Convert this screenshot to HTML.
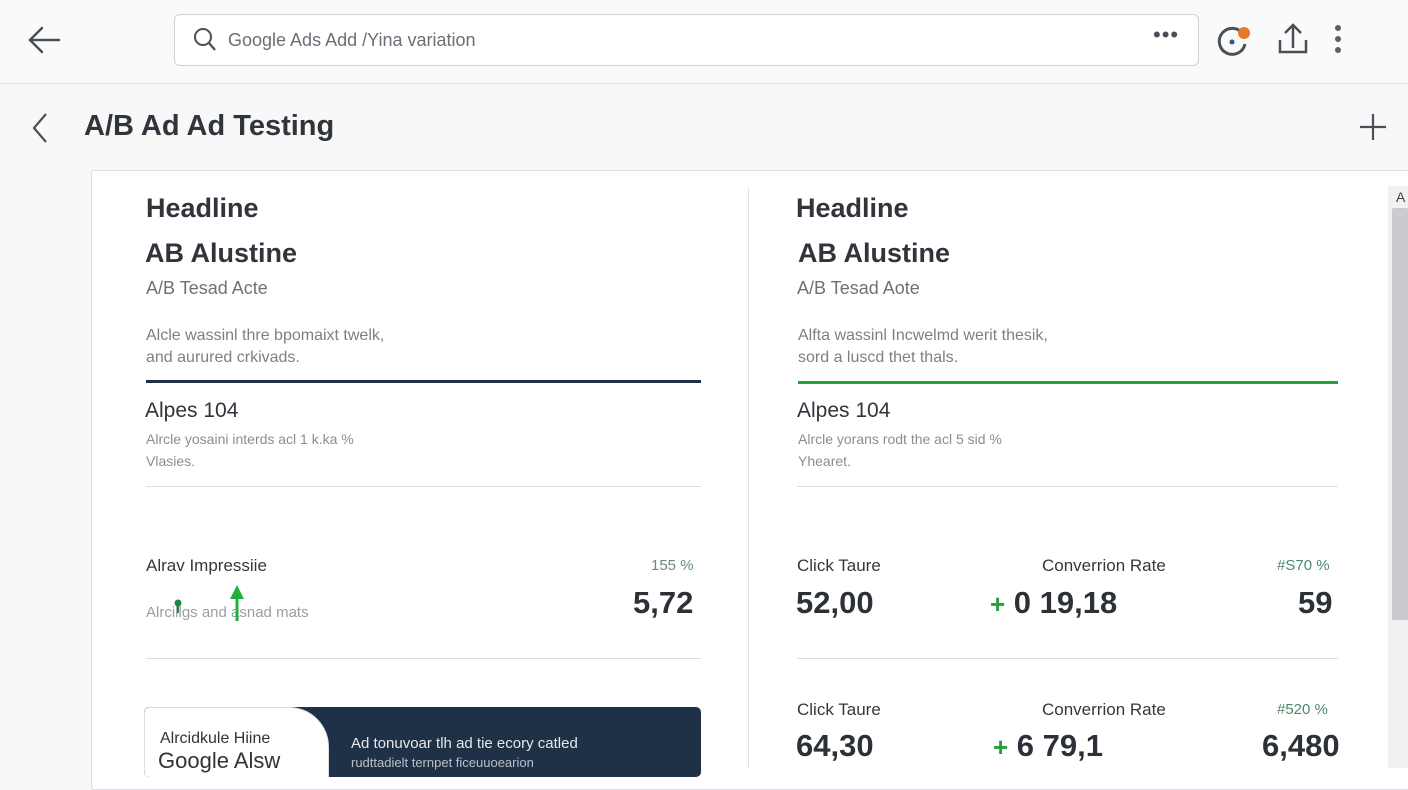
<!DOCTYPE html>
<html><head><meta charset="utf-8">
<style>
*{margin:0;padding:0;box-sizing:border-box}
body{width:1408px;height:768px;overflow:hidden;background:#f8f8f8;font-family:"Liberation Sans",Arial,sans-serif;color:#2a2f36;position:relative}
.a{position:absolute;white-space:nowrap}
.h{font-size:27px;font-weight:bold;color:#30353b}
.sub{font-size:18px;color:#6d7278}
.sm{font-size:16px;color:#7c8086;line-height:22px}
.lab{font-size:17px;color:#33383e}
.big{font-size:31px;font-weight:bold;color:#2c3138}
.pct{font-size:15px;color:#4a8a6a}
.hr{position:absolute;height:1px;background:#dcdde0}
</style></head><body>
<div class="a" style="left:0;top:0;width:1408px;height:84px;background:#fafafa;border-bottom:1px solid #dedfe2"></div>
<svg class="a" style="left:26px;top:24px" width="36" height="32"><path d="M33 16H4M16 4L4 16l12 12" stroke="#4a5058" stroke-width="2.5" fill="none" stroke-linecap="round"/></svg>
<div class="a" style="left:174px;top:14px;width:1025px;height:52px;border:1px solid #cfd1d4;border-radius:6px;background:#fff"></div>
<svg class="a" style="left:192px;top:27px" width="26" height="26"><circle cx="11" cy="10" r="8" stroke="#4a5058" stroke-width="2" fill="none"/><path d="M17 16l6 7" stroke="#4a5058" stroke-width="2.2"/></svg>
<div class="a" style="left:228px;top:30px;font-size:18px;color:#6a6f75">Google Ads Add /Yina variation</div>
<div class="a" style="left:1153px;top:22px;font-size:22px;color:#4a5058;letter-spacing:1px">•••</div>
<svg class="a" style="left:1214px;top:22px" width="40" height="36"><path d="M29 12A13 13 0 1 0 31 22" stroke="#4a5058" stroke-width="3" fill="none"/><circle cx="30" cy="11" r="6" fill="#e8782c"/><circle cx="18" cy="20" r="2.5" fill="#2c5a8c"/></svg>
<svg class="a" style="left:1276px;top:22px" width="34" height="34"><path d="M17 26V4M9 11l8-8 8 8M4 18v12h26V18" stroke="#4a5058" stroke-width="2.5" fill="none"/></svg>
<svg class="a" style="left:1332px;top:24px" width="12" height="32"><circle cx="6" cy="4" r="3" fill="#5a6068"/><circle cx="6" cy="15" r="3" fill="#5a6068"/><circle cx="6" cy="26" r="3" fill="#5a6068"/></svg>
<svg class="a" style="left:30px;top:112px" width="20" height="32"><path d="M16 2L4 16l12 14" stroke="#4a5058" stroke-width="2.2" fill="none"/></svg>
<div class="a" style="left:84px;top:110px;font-size:29px;font-weight:bold;color:#30353b">A/B Ad Ad Testing</div>
<svg class="a" style="left:1358px;top:112px" width="30" height="30"><path d="M15 2v26M2 15h26" stroke="#4a5058" stroke-width="2.2"/></svg>
<div class="a" style="left:91px;top:170px;width:1330px;height:620px;background:#fff;border:1px solid #dcdde0;border-radius:3px"></div>
<div class="a" style="left:748px;top:188px;width:1px;height:580px;background:#e0e1e3"></div>
<div class="a" style="left:1388px;top:186px;width:20px;height:582px;background:#f1f1f2"></div>
<div class="a" style="left:1396px;top:189px;font-size:14px;color:#444">A</div>
<div class="a" style="left:1392px;top:208px;width:16px;height:412px;background:#c9cbce;border-radius:2px"></div>

<!-- Left variant -->
<div class="a h" style="left:146px;top:193px">Headline</div>
<div class="a h" style="left:145px;top:238px">AB Alustine</div>
<div class="a sub" style="left:146px;top:278px">A/B Tesad Acte</div>
<div class="a sm" style="left:146px;top:325px">Alcle wassinl thre bpomaixt twelk,<br>and aurured crkivads.</div>
<div class="a" style="left:146px;top:380px;width:555px;height:3px;background:#1e2f45"></div>
<div class="a" style="left:145px;top:399px;font-size:21px;color:#30353b">Alpes 104</div>
<div class="a sm" style="left:146px;top:428px;font-size:14px;color:#8a8e93">Alrcle yosaini interds acl 1 k.ka %<br>Vlasies.</div>
<div class="hr" style="left:146px;top:486px;width:555px"></div>
<div class="a lab" style="left:146px;top:556px">Alrav Impressiie</div>
<div class="a pct" style="left:651px;top:557px;color:#6a8a7a">155 %</div>
<div class="a" style="left:146px;top:604px;font-size:15px;color:#9a9ea3">Alrcillgs  and asnad mats</div>
<svg class="a" style="left:170px;top:583px" width="80" height="40"><circle cx="8" cy="20" r="3.5" fill="#1e8a3c"/><path d="M8 20v10" stroke="#1e8a3c" stroke-width="2"/><path d="M67 2l-7 14h14z" fill="#22b03c"/><path d="M67 14v24" stroke="#22b03c" stroke-width="3"/></svg>
<div class="a big" style="left:633px;top:585px">5,72</div>
<div class="hr" style="left:146px;top:658px;width:555px"></div>
<div class="a" style="left:144px;top:707px;width:557px;height:70px;background:#1f3146;border-radius:5px;overflow:hidden">
 <div class="a" style="left:0;top:0;width:185px;height:80px;background:#fff;border:1px solid #dcdde0;border-radius:5px 40px 0 5px"></div>
 <div class="a" style="left:16px;top:23px;font-size:16px;color:#333">Alrcidkule Hiine</div>
 <div class="a" style="left:14px;top:41px;font-size:22px;color:#333">Google Alsw</div>
 <div class="a" style="left:207px;top:28px;font-size:15px;color:#e6e9ee">Ad tonuvoar tlh ad tie ecory catled</div>
 <div class="a" style="left:207px;top:48px;font-size:13px;color:#b8c0ca">rudttadielt ternpet ficeuuoearion</div>
</div>

<!-- Right variant -->
<div class="a h" style="left:796px;top:193px">Headline</div>
<div class="a h" style="left:798px;top:238px">AB Alustine</div>
<div class="a sub" style="left:797px;top:278px">A/B Tesad Aote</div>
<div class="a sm" style="left:798px;top:325px">Alfta wassinl Incwelmd werit thesik,<br>sord a luscd thet thals.</div>
<div class="a" style="left:798px;top:381px;width:540px;height:3px;background:#23a13a"></div>
<div class="a" style="left:797px;top:399px;font-size:21px;color:#30353b">Alpes 104</div>
<div class="a sm" style="left:798px;top:428px;font-size:14px;color:#8a8e93">Alrcle yorans rodt the acl 5 sid %<br>Yhearet.</div>
<div class="hr" style="left:797px;top:486px;width:541px"></div>
<div class="a lab" style="left:797px;top:556px">Click Taure</div>
<div class="a lab" style="left:1042px;top:556px">Converrion Rate</div>
<div class="a pct" style="left:1277px;top:557px">#S70 %</div>
<div class="a big" style="left:796px;top:585px">52,00</div>
<div class="a big" style="left:990px;top:585px"><span style="color:#22a03c;font-size:26px">+</span> 0 19,18</div>
<div class="a big" style="left:1298px;top:585px">59</div>
<div class="hr" style="left:797px;top:658px;width:541px"></div>
<div class="a lab" style="left:797px;top:700px">Click Taure</div>
<div class="a lab" style="left:1042px;top:700px">Converrion Rate</div>
<div class="a pct" style="left:1277px;top:701px">#520 %</div>
<div class="a big" style="left:796px;top:728px">64,30</div>
<div class="a big" style="left:993px;top:728px"><span style="color:#22a03c;font-size:26px">+</span> 6 79,1</div>
<div class="a big" style="left:1262px;top:728px">6,480</div>
</body></html>
